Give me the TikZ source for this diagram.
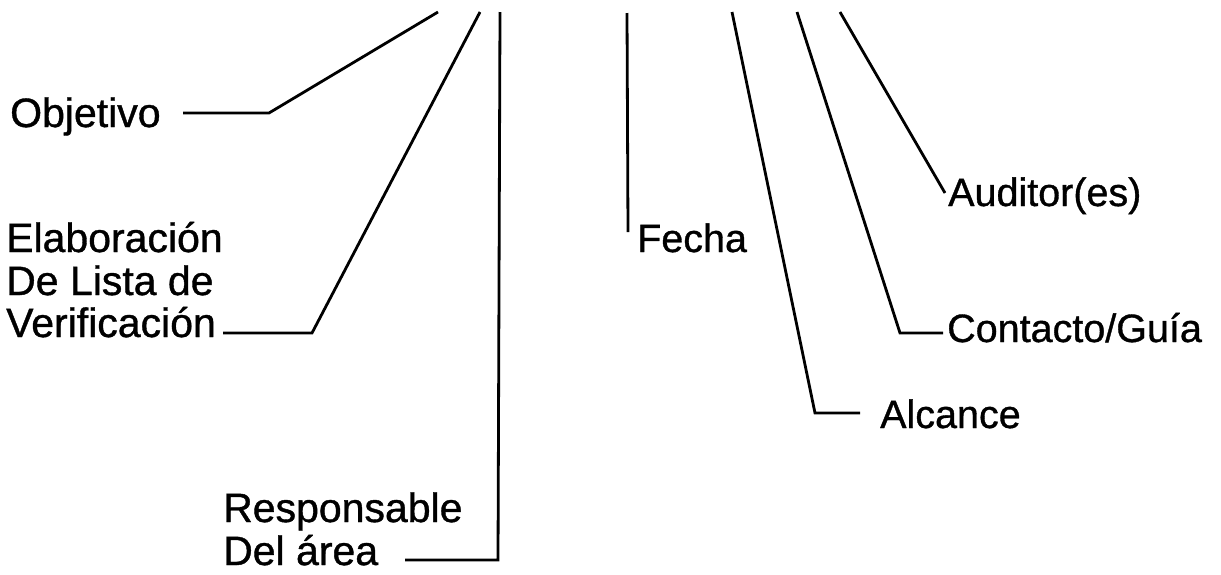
\documentclass[tikz,border=0pt]{standalone}
\usepackage{fontspec}
\setmainfont{Liberation Sans}
\newfontfamily\scanfont{Liberation Sans}[FakeBold=0.9]
\begin{document}
\begin{tikzpicture}[x=1pt,y=-1pt,
  lbl/.style={inner sep=0pt,anchor=base west,font=\scanfont\fontsize{41}{43}\selectfont,align=left},
  rlbl/.style={inner sep=0pt,anchor=base west,font=\scanfont\fontsize{39.5}{43}\selectfont},
  conn/.style={line width=2.8pt,line join=miter}]
\useasboundingbox[fill=white] (0,0) rectangle (1221,574);
% labels
\node[lbl] (obj) at (10,127) {Objetivo};
\node[lbl] (ela1) at (6,252) {Elaboración};
\node[lbl] (ela2) at (6,295) {De Lista de};
\node[lbl] (ela3) at (6,337) {Verificación};
\node[lbl] (res1) at (223,522) {Responsable};
\node[lbl] (res2) at (223,565) {Del área};
\node[rlbl] (fec) at (637,252) {Fecha};
\node[rlbl] (aud) at (948,206) {Auditor(es)};
\node[rlbl] (con) at (947,342) {Contacto/Guía};
\node[rlbl] (alc) at (880,428) {Alcance};
% coordinates
\coordinate (objS) at (183,113);
\coordinate (objC) at (269,113);
\coordinate (objT) at (438,12);
\coordinate (elaS) at (223,333);
\coordinate (elaC) at (312,333);
\coordinate (elaT) at (480,12);
\coordinate (resS) at (405,560);
\coordinate (resC) at (498,560);
\coordinate (resT) at (500,12);
\coordinate (fecS) at (628,232);
\coordinate (fecT) at (627,13);
\coordinate (audS) at (945,193);
\coordinate (audT) at (840,12);
\coordinate (conS) at (943,333);
\coordinate (conC) at (900,333);
\coordinate (conT) at (797,12);
\coordinate (alcS) at (860,413);
\coordinate (alcC) at (815,413);
\coordinate (alcT) at (732,12);
% connectors
\draw[conn] (objS) -- (objC) -- (objT);
\draw[conn] (elaS) -- (elaC) -- (elaT);
\draw[conn] (resS) -- (resC) -- (resT);
\draw[conn] (fecS) -- (fecT);
\draw[conn] (audS) -- (audT);
\draw[conn] (conS) -- (conC) -- (conT);
\draw[conn] (alcS) -- (alcC) -- (alcT);
\end{tikzpicture}
\end{document}
